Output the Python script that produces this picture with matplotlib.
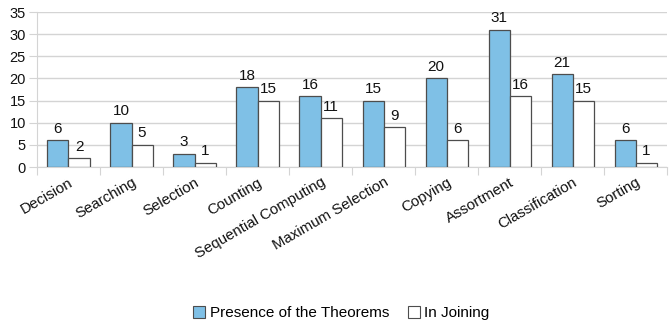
import matplotlib
matplotlib.use("Agg")
import matplotlib.pyplot as plt
from matplotlib.patches import Patch
import numpy as np

plt.rcParams['font.family'] = ['Liberation Sans', 'DejaVu Sans']

categories = ["Decision", "Searching", "Selection", "Counting", "Sequential Computing",
              "Maximum Selection", "Copying", "Assortment", "Classification", "Sorting"]
theorems = [6, 10, 3, 18, 16, 15, 20, 31, 21, 6]
joining = [2, 5, 1, 15, 11, 9, 6, 16, 15, 1]
yticks = [0, 5, 10, 15, 20, 25, 30, 35]

blue = "#7fc0e6"
edge = "#4d4d4d"
grid = "#d4d4d4"

fig = plt.figure(figsize=(6.72, 3.25), dpi=100)
ax = fig.add_axes([0.055, 0.486, 0.938, 0.477])

x = np.arange(len(categories))
w = 0.335
ax.bar(x - w / 2, theorems, w, color=blue, edgecolor=edge, linewidth=0.9, zorder=3)
ax.bar(x + w / 2, joining, w, color="white", edgecolor=edge, linewidth=0.9, zorder=3)

for xi, v in zip(x, theorems):
    ax.text(xi - w / 2, v + 1.0, str(v), ha="center", va="bottom", fontsize=11, color="#111111")
for xi, v in zip(x, joining):
    ax.text(xi + w / 2, v + 1.0, str(v), ha="center", va="bottom", fontsize=11, color="#111111")

ax.set_xlim(-0.5, len(categories) - 0.5)
ax.set_ylim(0, 35)
ax.set_yticks(yticks)
ax.tick_params(axis="y", labelsize=10.5, length=6, color=grid, pad=2, labelcolor="#111111")
ax.yaxis.grid(True, color=grid, linewidth=1, zorder=0)

# category boundaries carry the x tick marks; labels sit at the centres
ax.set_xticks(np.arange(len(categories) + 1) - 0.5)
ax.set_xticklabels([])
ax.tick_params(axis="x", length=6, color=grid)
ax.set_xticks(x, minor=True)
ax.set_xticklabels(categories, minor=True, rotation=30, ha="right",
                   rotation_mode="anchor", fontsize=10.8, color="#111111")
ax.tick_params(axis="x", which="minor", length=0, pad=6)

for s in ["top", "right"]:
    ax.spines[s].set_visible(False)
ax.spines["left"].set_color(grid)
ax.spines["bottom"].set_color(grid)

handles = [Patch(facecolor=blue, edgecolor=edge, linewidth=0.8),
           Patch(facecolor="white", edgecolor=edge, linewidth=0.8)]
fig.legend(handles, ["Presence of the Theorems", "In Joining"], loc="center",
           bbox_to_anchor=(0.508, 0.037), ncol=2, frameon=False, fontsize=11,
           handlelength=0.8, handleheight=0.8, handletextpad=0.3, columnspacing=1.2)

fig.savefig("out.png", dpi=100)
